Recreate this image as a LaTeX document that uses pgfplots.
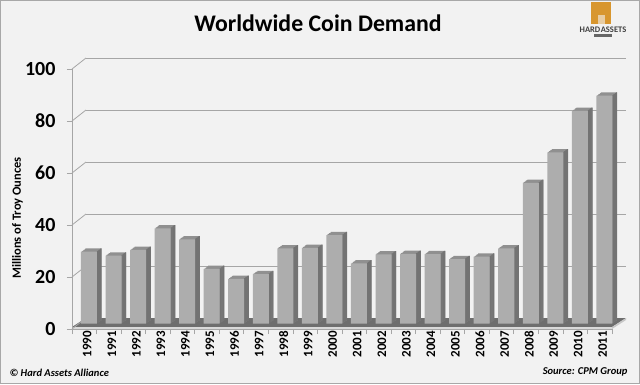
\documentclass[border=0pt]{standalone}
\usepackage{pgfplots}
\pgfplotsset{compat=1.18}
\usepackage{pgfplotstable}
\usepackage{fontspec}
\setmainfont{Carlito}
\definecolor{bgc}{HTML}{F2F2F2}
\definecolor{framec}{HTML}{A8A8A8}
\definecolor{gridc}{HTML}{A6A6A6}
\definecolor{frontc}{HTML}{ADADAD}
\definecolor{sidec}{HTML}{737373}
\definecolor{topc}{HTML}{909090}
\definecolor{floorc}{HTML}{6E6E6E}
\definecolor{logoc}{HTML}{D8962E}

\pgfplotstableread{
i v
0 27.6
1 26.1
2 28.3
3 36.6
4 32.4
5 21.0
6 17.2
7 19.0
8 28.9
9 29.1
10 34.0
11 23.1
12 26.6
13 26.8
14 26.7
15 24.8
16 25.7
17 28.9
18 54.1
19 65.8
20 81.8
21 87.6
}\coindata

\pgfplotsset{bar3d/.style={ybar, bar width=16pt, bar shift=0pt, draw=none}}

\begin{document}
\begin{tikzpicture}[x=1pt,y=1pt]
\fill[bgc] (0,0) rectangle (640,384);
\draw[framec, line width=1.2pt] (0.6,0.6) rectangle (639.4,383.4);

% back wall gridlines
\begin{axis}[at={(86pt,66pt)}, anchor=south west, width=540pt, height=260pt,
  scale only axis, xmin=-0.5, xmax=21.5, ymin=0, ymax=100,
  ytick={20,40,60,80,100}, yticklabels={}, xtick=\empty,
  major tick length=0pt, ymajorgrids, grid style={gridc, line width=0.8pt},
  axis line style={draw=none}]
\end{axis}

% floor
\fill[floorc] (72,57) -- (612,57) -- (626,66) -- (86,66) -- cycle;
\fill[black!15] (72,55) rectangle (612,57);
\fill[black!22] (612,55) -- (612,57) -- (626,66) -- (626,64) -- cycle;

\begin{axis}[at={(72pt,55pt)}, anchor=south west, width=540pt, height=260pt,
  scale only axis, xmin=-0.5, xmax=21.5, ymin=0, ymax=100, clip=false,
  axis x line*=bottom, axis y line*=left,
  axis line style={gridc, line width=0.8pt},
  tick style={gridc, line width=0.8pt},
  tick align=outside, major tick length=5pt,
  ytick={0,20,40,60,80,100},
  xtick={-0.5,0.5,...,21.5}, xticklabels={},
  extra x ticks={0,1,2,3,4,5,6,7,8,9,10,11,12,13,14,15,16,17,18,19,20,21},
  extra x tick labels={1990,1991,1992,1993,1994,1995,1996,1997,1998,1999,2000,2001,2002,2003,2004,2005,2006,2007,2008,2009,2010,2011},
  extra x tick style={major tick length=0pt},
  xticklabel style={rotate=90, anchor=east, yshift=-3pt, xshift=1.5pt, font=\bfseries\fontsize{13}{13}\selectfont, text=black},
  yticklabel style={font=\bfseries\fontsize{20}{20}\selectfont, text=black, xshift=-8pt},
  /pgf/number format/assume math mode=true]

\pgfplotsinvokeforeach{0,20,40,60,80,100}{
  \draw[gridc, line width=0.8pt] (axis cs:-0.5,#1) -- ++(14pt,11pt);
}

\pgfplotsinvokeforeach{5,4,3,2,1}{
  \addplot[bar3d, fill=topc, xshift={(4.7+0.9*#1)*1pt}, yshift={(5.5+0.65*#1)*1pt}]
    table[x=i, y=v] {\coindata};
}
\pgfplotsinvokeforeach{1,2,3,4,5}{
  \addplot[bar3d, bar width=1.2pt, fill=sidec, xshift={(12.3+0.9*#1)*1pt}, yshift={(5.5+0.65*#1)*1pt}]
    table[x=i, y=v] {\coindata};
}
\addplot[bar3d, fill=frontc, xshift=4.7pt, yshift=5.5pt] table[x=i, y=v] {\coindata};
\end{axis}

% texts
\node[font=\bfseries\fontsize{23.8}{23.8}\selectfont] at (318,361) {Worldwide Coin Demand};
\node[rotate=90, font=\bfseries\fontsize{12.5}{12.5}\selectfont] at (17.5,166) {Millions of Troy Ounces};
\node[anchor=west, font=\bfseries\itshape\fontsize{10.5}{10.5}\selectfont] at (6,11) {© Hard Assets Alliance};
\node[anchor=east, font=\bfseries\itshape\fontsize{10.5}{10.5}\selectfont] at (631,12) {Source: CPM Group};

% logo
\fill[logoc] (591,360) rectangle (611,382);
\fill[bgc!60!logoc] (597.5,360) rectangle (604.5,369);
\node[font=\bfseries\fontsize{8.5}{8.5}\selectfont, text=black!75, inner sep=0pt] at (603,354) {HARD\kern0.5pt ASSETS};
\fill[black!60] (594,347) rectangle (612,350);
\end{tikzpicture}
\end{document}
